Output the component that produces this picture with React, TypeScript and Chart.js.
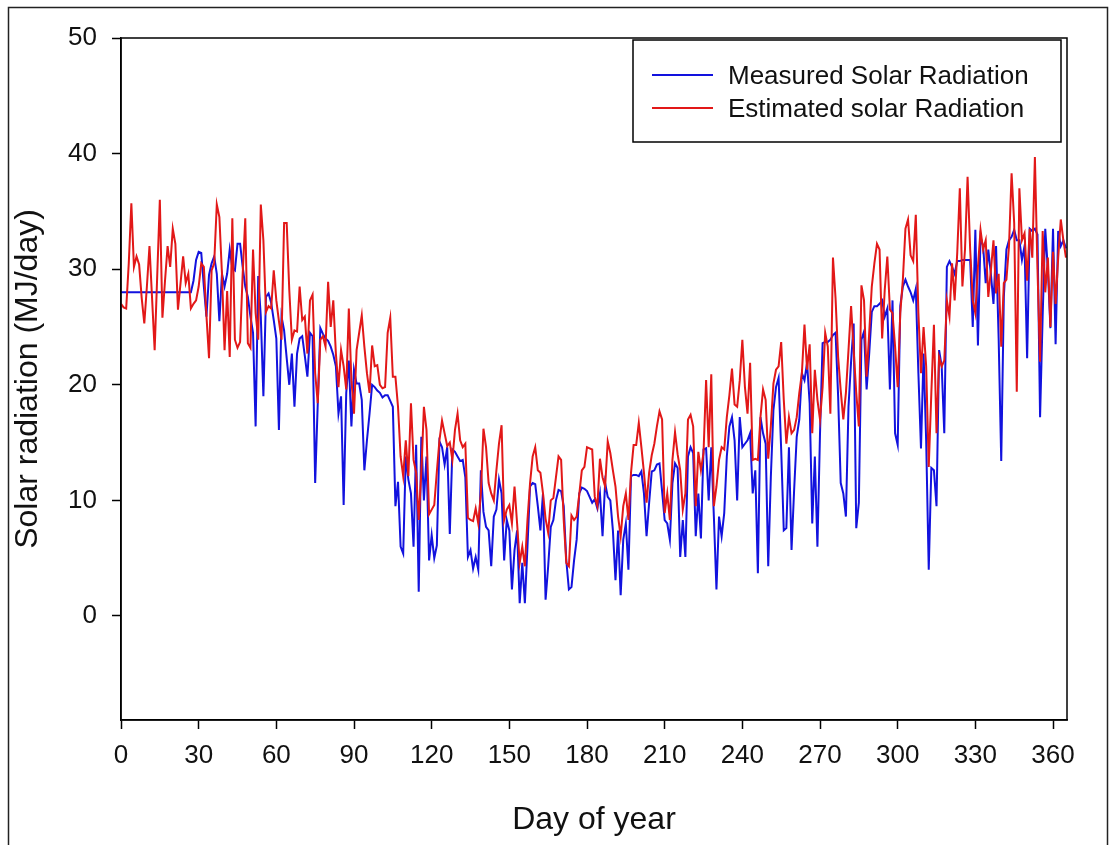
import { useEffect, useRef } from 'react';
import { Chart, registerables } from 'chart.js';

Chart.register(...registerables);

const FONT = '"Liberation Sans", Arial, Helvetica, sans-serif';

// Axis labels and tick positions
const xTitle = 'Day of year';
const yTitle = 'Solar radiation (MJ/day)';
const xTickValues = [0, 30, 60, 90, 120, 150, 180, 210, 240, 270, 300, 330, 360];
const yTickValues = [0, 10, 20, 30, 40, 50];
const seriesNames = ['Measured Solar Radiation', 'Estimated solar Radiation'];

// Daily measured solar radiation, MJ/day (day 0 .. 365)
const measured = [
  28, 28, 28, 28, 28, 28, 28, 28, 28, 28,
  28, 28, 28, 28, 28, 28, 28, 28, 28, 28,
  28, 28, 28, 28, 28, 28, 28, 28, 29.0, 30.8,
  31.5, 31.4, 28.5, 25.9, 29.5, 30.5, 31.1, 29.6, 25.5, 29.6,
  28.5, 29.6, 31.7, 30.1, 29.9, 32.2, 32.2, 30.2, 28.5, 27.6,
  25.9, 24.5, 16.4, 29.4, 25.9, 19.0, 27.6, 27.9, 27.1, 25.6,
  24.0, 16.1, 25.9, 24.7, 22.3, 20.0, 22.7, 18.1, 22.7, 24.0,
  24.2, 22.5, 20.7, 24.5, 24.2, 11.5, 18.4, 24.9, 24.4, 24.0,
  23.8, 23.3, 22.6, 21.6, 17.5, 19.0, 9.6, 19.3, 22.1, 16.4,
  21.3, 20.1, 20.1, 18.7, 12.6, 15.2, 17.5, 20.0, 19.8, 19.5,
  19.3, 18.9, 19.1, 19.1, 18.6, 18.1, 9.5, 11.6, 6.0, 5.4,
  13.8, 11.8, 10.6, 6.0, 14.8, 2.1, 15.5, 10.0, 13.8, 4.8,
  7.0, 5.0, 6.1, 15.1, 14.6, 13.1, 14.6, 7.1, 14.4, 14.2,
  13.8, 13.4, 13.5, 12.0, 5.1, 5.7, 4.1, 5.1, 4.0, 12.6,
  9.0, 7.7, 7.4, 4.3, 8.6, 9.2, 11.8, 10.6, 4.8, 8.3,
  7.4, 2.3, 5.7, 7.4, 1.1, 4.6, 1.1, 6.0, 11.2, 11.5,
  11.4, 9.5, 7.4, 10.6, 1.4, 4.3, 7.7, 8.3, 10.0, 10.9,
  10.8, 9.5, 4.8, 2.3, 2.5, 4.8, 6.6, 10.6, 11.1, 11.0,
  10.8, 10.3, 9.8, 10.1, 9.3, 10.6, 6.9, 11.5, 10.3, 10.0,
  7.4, 3.1, 7.4, 1.8, 6.6, 8.0, 4.0, 12.1, 12.2, 12.2,
  12.1, 12.5, 10.6, 6.9, 9.8, 12.5, 12.6, 13.1, 13.2, 10.8,
  8.3, 8.0, 6.6, 11.5, 13.2, 12.8, 5.1, 8.3, 5.1, 13.8,
  14.6, 14.1, 6.9, 10.6, 6.7, 14.4, 14.5, 10.0, 14.6, 8.6,
  2.3, 8.6, 6.9, 8.9, 13.8, 16.4, 17.2, 15.2, 10.0, 17.2,
  14.6, 14.9, 15.2, 15.8, 10.6, 12.6, 3.7, 17.2, 15.8, 14.9,
  4.3, 12.0, 17.8, 19.8, 20.6, 14.4, 7.4, 7.6, 14.6, 5.7,
  10.9, 15.5, 17.0, 21.0, 20.4, 21.9, 18.4, 8.0, 13.8, 6.0,
  15.8, 23.6, 23.7, 23.7, 23.9, 24.3, 24.5, 19.0, 11.5, 10.6,
  8.6, 18.1, 22.0, 25.3, 7.6, 9.8, 23.9, 24.6, 19.6, 22.7,
  26.3, 26.8, 26.8, 27.0, 27.3, 25.9, 26.6, 19.6, 27.3, 15.8,
  14.8, 26.8, 28.5, 29.1, 28.5, 28.0, 27.3, 28.3, 21.0, 14.5,
  22.7, 15.2, 4.0, 12.8, 12.6, 9.5, 23.0, 21.6, 15.8, 30.2,
  30.7, 30.2, 29.6, 30.7, 30.7, 30.8, 30.8, 30.8, 30.8, 25.0,
  33.4, 23.4, 32.8, 32.0, 28.8, 31.7, 29.6, 27.0, 32.0, 24.0,
  13.4, 27.6, 31.7, 32.5, 32.8, 33.4, 32.5, 32.5, 30.8, 32.0,
  22.3, 33.5, 33.3, 33.5, 33.0, 17.2, 26.0, 33.5, 30.0, 24.9,
  33.5, 23.5, 33.3, 32.0, 32.5, 31.8,
];

// Daily estimated solar radiation, MJ/day (day 0 .. 365)
const estimated = [
  27.0, 26.7, 26.6, 30.5, 35.7, 30.2, 31.1, 30.4, 27.5, 25.3,
  28.5, 32.0, 27.5, 23.0, 29.5, 36.0, 25.8, 29.0, 32.0, 30.2,
  33.5, 32.2, 26.5, 28.8, 31.1, 28.8, 29.6, 26.6, 27.0, 27.3,
  28.5, 30.5, 30.2, 26.0, 22.3, 29.9, 30.5, 35.6, 34.5, 29.6,
  23.0, 28.1, 22.4, 34.4, 23.9, 23.2, 23.7, 29.6, 34.4, 23.6,
  23.2, 31.7, 26.2, 23.9, 35.6, 32.5, 26.3, 26.8, 26.6, 29.9,
  27.3, 25.5, 23.9, 34.0, 34.0, 28.2, 23.9, 24.7, 24.6, 28.5,
  25.6, 25.9, 22.7, 27.3, 27.8, 21.0, 18.4, 23.9, 24.2, 23.3,
  28.9, 25.0, 27.3, 22.7, 19.8, 23.0, 21.6, 19.6, 26.6, 20.4,
  17.5, 23.0, 24.5, 26.0, 23.3, 21.0, 19.3, 23.4, 21.6, 21.7,
  20.0, 19.7, 19.8, 24.5, 25.8, 20.7, 20.7, 18.1, 13.8, 12.1,
  15.2, 12.1, 18.4, 13.5, 12.4, 8.3, 12.4, 18.1, 16.1, 8.8,
  9.2, 9.6, 12.5, 15.2, 16.9, 15.8, 14.7, 15.0, 13.5, 16.1,
  17.5, 15.2, 14.6, 14.9, 8.5, 8.3, 8.2, 9.3, 8.0, 10.6,
  16.2, 14.6, 11.5, 10.6, 10.0, 12.6, 14.9, 16.5, 8.3, 9.2,
  9.6, 8.0, 11.2, 8.0, 4.6, 6.0, 4.3, 8.3, 11.5, 13.8,
  14.6, 12.6, 12.4, 10.6, 8.4, 7.2, 10.0, 10.2, 12.0, 13.8,
  13.5, 8.3, 4.6, 4.3, 8.7, 8.3, 8.6, 10.5, 12.6, 12.9,
  14.6, 14.5, 14.4, 10.3, 9.5, 13.6, 12.0, 11.2, 15.1, 14.1,
  12.6, 11.2, 8.6, 6.9, 9.5, 10.6, 8.3, 12.4, 14.8, 14.8,
  16.7, 14.6, 12.4, 9.8, 12.4, 13.9, 14.9, 16.4, 17.7, 17.0,
  8.9, 10.6, 8.3, 13.5, 15.9, 14.0, 12.6, 9.2, 10.6, 17.0,
  17.4, 16.4, 9.5, 14.2, 12.6, 14.1, 20.4, 14.6, 20.9, 9.5,
  11.2, 13.5, 14.6, 14.4, 17.2, 19.1, 21.4, 18.3, 18.1, 20.4,
  23.9, 19.8, 17.5, 21.9, 13.5, 13.6, 13.5, 17.2, 19.6, 18.7,
  13.6, 16.4, 20.1, 21.3, 21.6, 23.7, 18.7, 14.9, 17.2, 15.8,
  16.1, 17.2, 19.3, 21.0, 25.2, 21.3, 23.5, 15.8, 21.3, 18.7,
  17.0, 19.8, 24.5, 23.3, 17.5, 31.0, 27.5, 22.4, 19.5, 17.0,
  19.3, 23.0, 26.8, 23.0, 19.3, 16.4, 28.6, 27.3, 20.7, 24.5,
  28.5, 30.5, 32.2, 31.7, 24.0, 28.2, 31.1, 26.5, 26.2, 23.3,
  19.8, 26.2, 29.1, 33.5, 34.3, 31.2, 30.7, 34.7, 26.2, 21.0,
  25.0, 21.6, 12.9, 19.3, 25.2, 15.8, 22.4, 21.6, 22.1, 27.3,
  25.9, 30.5, 27.3, 31.4, 37.0, 28.5, 31.7, 38.0, 31.7, 27.3,
  26.2, 30.2, 33.4, 31.7, 32.5, 27.6, 29.9, 32.5, 27.9, 29.6,
  23.3, 28.8, 29.1, 32.0, 38.3, 34.0, 19.4, 37.0, 32.5, 33.1,
  29.0, 33.5, 31.0, 39.7, 30.0, 22.0, 33.3, 28.0, 31.0, 25.0,
  31.5, 27.0, 31.0, 34.3, 32.5, 31.0,
];

// Day index for each daily value
const days = measured.map((_, i) => i);

const MEASURED_COLOR = 'rgb(18, 18, 222)';
const ESTIMATED_COLOR = 'rgb(226, 24, 24)';
const INK = '#111';

// Frame, axis titles and boxed legend drawn on top of the plot
const decorPlugin = {
  id: 'decor',
  afterDraw(chart: any) {
    const { ctx, chartArea: a } = chart;
    ctx.save();

    // outer figure border
    ctx.strokeStyle = '#222';
    ctx.lineWidth = 1.5;
    ctx.strokeRect(8.5, 7.5, 1099, 900);

    // plot frame
    ctx.strokeStyle = '#000';
    ctx.lineWidth = 1.5;
    ctx.strokeRect(a.left, a.top, a.right - a.left, a.bottom - a.top);

    // axis titles
    ctx.fillStyle = INK;
    ctx.font = `32px ${FONT}`;
    ctx.textAlign = 'center';
    ctx.textBaseline = 'alphabetic';
    ctx.fillText(xTitle, (a.left + a.right) / 2, 829);

    ctx.save();
    ctx.translate(37, (a.top + a.bottom) / 2);
    ctx.rotate(-Math.PI / 2);
    ctx.fillText(yTitle, 0, 0);
    ctx.restore();

    // legend box
    const bx = 633, by = 40, bw = 428, bh = 102;
    ctx.fillStyle = '#fff';
    ctx.fillRect(bx, by, bw, bh);
    ctx.strokeStyle = '#000';
    ctx.lineWidth = 1.5;
    ctx.strokeRect(bx, by, bw, bh);

    const rows = [75, 108];
    chart.data.datasets.forEach((ds: any, i: number) => {
      const y = rows[i];
      ctx.strokeStyle = ds.borderColor;
      ctx.lineWidth = 2;
      ctx.beginPath();
      ctx.moveTo(652, y);
      ctx.lineTo(713, y);
      ctx.stroke();
      ctx.fillStyle = INK;
      ctx.font = `26px ${FONT}`;
      ctx.textAlign = 'left';
      ctx.textBaseline = 'alphabetic';
      ctx.fillText(ds.label, 728, y + 9);
    });

    ctx.restore();
  },
};

export default function App() {
  const canvasRef = useRef<HTMLCanvasElement>(null);

  useEffect(() => {
    const canvas = canvasRef.current;
    if (!canvas) return;

    const tickFont = { family: FONT, size: 26 };

    const chart = new Chart(canvas, {
      type: 'line',
      data: {
        labels: days,
        datasets: [
          {
            label: seriesNames[0],
            data: measured,
            borderColor: MEASURED_COLOR,
            backgroundColor: MEASURED_COLOR,
            borderWidth: 2,
            pointRadius: 0,
            tension: 0,
            fill: false,
            order: 1,
          },
          {
            label: seriesNames[1],
            data: estimated,
            borderColor: ESTIMATED_COLOR,
            backgroundColor: ESTIMATED_COLOR,
            borderWidth: 2,
            pointRadius: 0,
            tension: 0,
            fill: false,
            order: 0,
          },
        ],
      },
      options: {
        responsive: false,
        animation: false,
        events: [],
        layout: { padding: { left: 0, top: 38, right: 44, bottom: 0 } },
        plugins: {
          legend: { display: false },
          tooltip: { enabled: false },
          title: { display: false },
        },
        scales: {
          x: {
            type: 'linear',
            min: 0,
            max: 365.4,
            afterBuildTicks: (scale: any) => {
              scale.ticks = xTickValues.map((v) => ({ value: v }));
            },
            afterFit: (scale: any) => {
              scale.height = 125;
            },
            ticks: {
              font: tickFont,
              color: INK,
              padding: 11,
              maxRotation: 0,
              autoSkip: false,
              callback: (v: any) => String(v),
            },
            grid: {
              display: true,
              drawOnChartArea: false,
              drawTicks: true,
              tickLength: 9,
              tickWidth: 1.5,
              tickColor: '#000',
            },
            border: { display: true, color: '#000', width: 1.5 },
          },
          y: {
            type: 'linear',
            min: -9,
            max: 50,
            afterBuildTicks: (scale: any) => {
              scale.ticks = yTickValues.map((v) => ({ value: v }));
            },
            afterFit: (scale: any) => {
              scale.width = 121;
            },
            ticks: {
              font: tickFont,
              color: INK,
              padding: 15,
              autoSkip: false,
              callback: (v: any) => String(v),
            },
            grid: {
              display: true,
              drawOnChartArea: false,
              drawTicks: true,
              tickLength: 9,
              tickWidth: 1.5,
              tickColor: '#000',
            },
            border: { display: true, color: '#000', width: 1.5 },
          },
        },
      },
      plugins: [decorPlugin],
    } as any);

    return () => chart.destroy();
  }, []);

  return (
    <div
      style={{
        position: 'absolute',
        left: 0,
        top: 0,
        width: 1111,
        height: 845,
        background: '#fff',
        overflow: 'hidden',
      }}
    >
      <canvas
        ref={canvasRef}
        width={1111}
        height={845}
        style={{ display: 'block', width: 1111, height: 845 }}
      />
    </div>
  );
}
